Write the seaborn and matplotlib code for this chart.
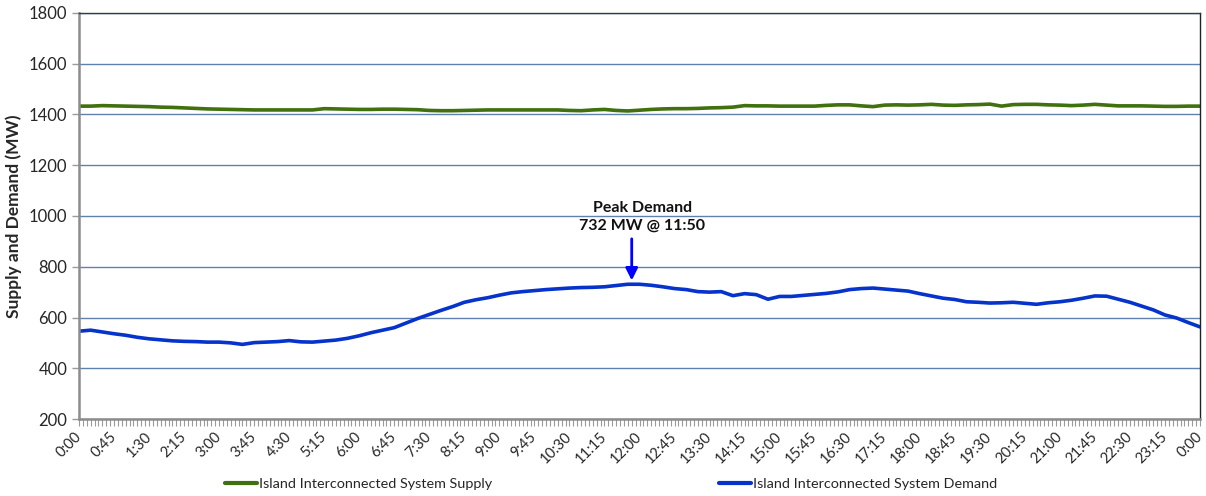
import numpy as np
import pandas as pd
import matplotlib
matplotlib.use("Agg")
import matplotlib.pyplot as plt
from matplotlib.ticker import MultipleLocator, FixedLocator
import seaborn as sns

# 15-minute samples from 0:00 to 24:00
supply = [1433, 1433, 1435, 1434, 1433, 1432, 1431, 1429, 1428, 1426, 1424, 1422,
          1421, 1420, 1419, 1418, 1418, 1418, 1418, 1418, 1418, 1423, 1422, 1421,
          1420, 1420, 1421, 1421, 1420, 1419, 1416, 1415, 1415, 1416, 1417, 1418,
          1418, 1418, 1418, 1418, 1418, 1418, 1416, 1415, 1418, 1420, 1416, 1414,
          1417, 1420, 1422, 1423, 1423, 1424, 1426, 1427, 1429, 1435, 1434, 1434,
          1433, 1433, 1433, 1433, 1436, 1438, 1438, 1434, 1431, 1437, 1438, 1437,
          1438, 1440, 1437, 1436, 1438, 1439, 1441, 1433, 1439, 1440, 1440, 1438,
          1437, 1435, 1437, 1440, 1437, 1434, 1434, 1434, 1433, 1432, 1432, 1433,
          1433]
demand = [546, 550, 543, 536, 530, 522, 516, 512, 508, 506, 505, 503,
          503, 500, 494, 501, 503, 505, 509, 504, 503, 507, 511, 518,
          528, 540, 550, 560, 578, 596, 612, 628, 643, 660, 670, 678,
          688, 697, 702, 706, 710, 713, 716, 718, 719, 721, 726, 731,
          731, 727, 721, 714, 710, 702, 700, 702, 686, 694, 690, 672,
          683, 683, 687, 691, 695, 701, 710, 714, 716, 712, 708, 704,
          694, 685, 676, 671, 662, 660, 657, 658, 660, 656, 652, 658,
          662, 668, 676, 685, 684, 672, 660, 645, 630, 610, 598, 580,
          563]
hours = np.arange(len(demand)) * 0.25

series_names = ["Island Interconnected System Supply", "Island Interconnected System Demand"]
colors = ["#41700f", "#0533cc"]

tick_minutes = list(range(0, 24 * 60 + 1, 45))
tick_labels = [f"{(m // 60) % 24}:{m % 60:02d}" for m in tick_minutes]

peak_value = 732
peak_hour = 11 + 50 / 60
peak_text = "Peak Demand\n732 MW @ 11:50"

df = pd.DataFrame({
    "hour": np.concatenate([hours, hours]),
    "MW": supply + demand,
    "series": [series_names[0]] * len(supply) + [series_names[1]] * len(demand),
})

sns.set_theme(style="white")
plt.rcParams["font.family"] = ["Lato", "DejaVu Sans"]

fig = plt.figure(figsize=(12.06, 4.96), dpi=100)
ax = fig.add_axes([79 / 1206, 1 - 419 / 496, (1200 - 79) / 1206, (419 - 13) / 496])

sns.lineplot(data=df, x="hour", y="MW", hue="series", palette=colors,
             hue_order=series_names, linewidth=2.6, ax=ax, legend=True)

ax.set_xlim(0, 24)
ax.set_ylim(200, 1800)
ax.yaxis.set_major_locator(MultipleLocator(200))
ax.grid(axis="y", color="#5f80b0", linewidth=1.0)
ax.set_axisbelow(True)

ax.xaxis.set_major_locator(FixedLocator([m / 60 for m in tick_minutes]))
ax.set_xticklabels(tick_labels, rotation=45, ha="right", va="center",
                   rotation_mode="anchor", fontsize=10.5)
ax.xaxis.set_minor_locator(MultipleLocator(5 / 60))
ax.tick_params(axis="x", which="both", direction="out", length=5, width=0.8, color="#9a9a9a", bottom=True, pad=6)
ax.tick_params(axis="y", which="major", direction="out", length=5, width=1, color="#9a9a9a", left=True, labelsize=12)

ax.set_xlabel("")
ax.set_ylabel("Supply and Demand (MW)", fontsize=12.5, fontweight="bold", labelpad=5)

for side in ["left", "bottom"]:
    ax.spines[side].set_color("#8c8c8c")
    ax.spines[side].set_linewidth(1.8)
ax.spines["top"].set_color("#3a3a3a")
ax.spines["top"].set_linewidth(1.0)
ax.spines["right"].set_color("#222222")
ax.spines["right"].set_linewidth(1.0)

ax.annotate("", xy=(peak_hour, peak_value + 3), xytext=(peak_hour, 921),
            arrowprops=dict(arrowstyle="-|>,head_length=0.6,head_width=0.3", color="#0000ff", lw=2))
ax.text(peak_hour + 0.23, 935, peak_text, ha="center", va="bottom", fontsize=11.5,
        fontweight="bold", linespacing=1.3, color="#111111")

handles, labels = ax.get_legend_handles_labels()
ax.get_legend().remove()
leg = fig.legend(handles, labels, loc="center", bbox_to_anchor=(0.507, 0.024), ncol=2,
                 frameon=False, fontsize=10.4, handlelength=2.2, handletextpad=0.15,
                 columnspacing=15.7)
for line in leg.get_lines():
    line.set_linewidth(3)

fig.savefig("out.png", dpi=100)
